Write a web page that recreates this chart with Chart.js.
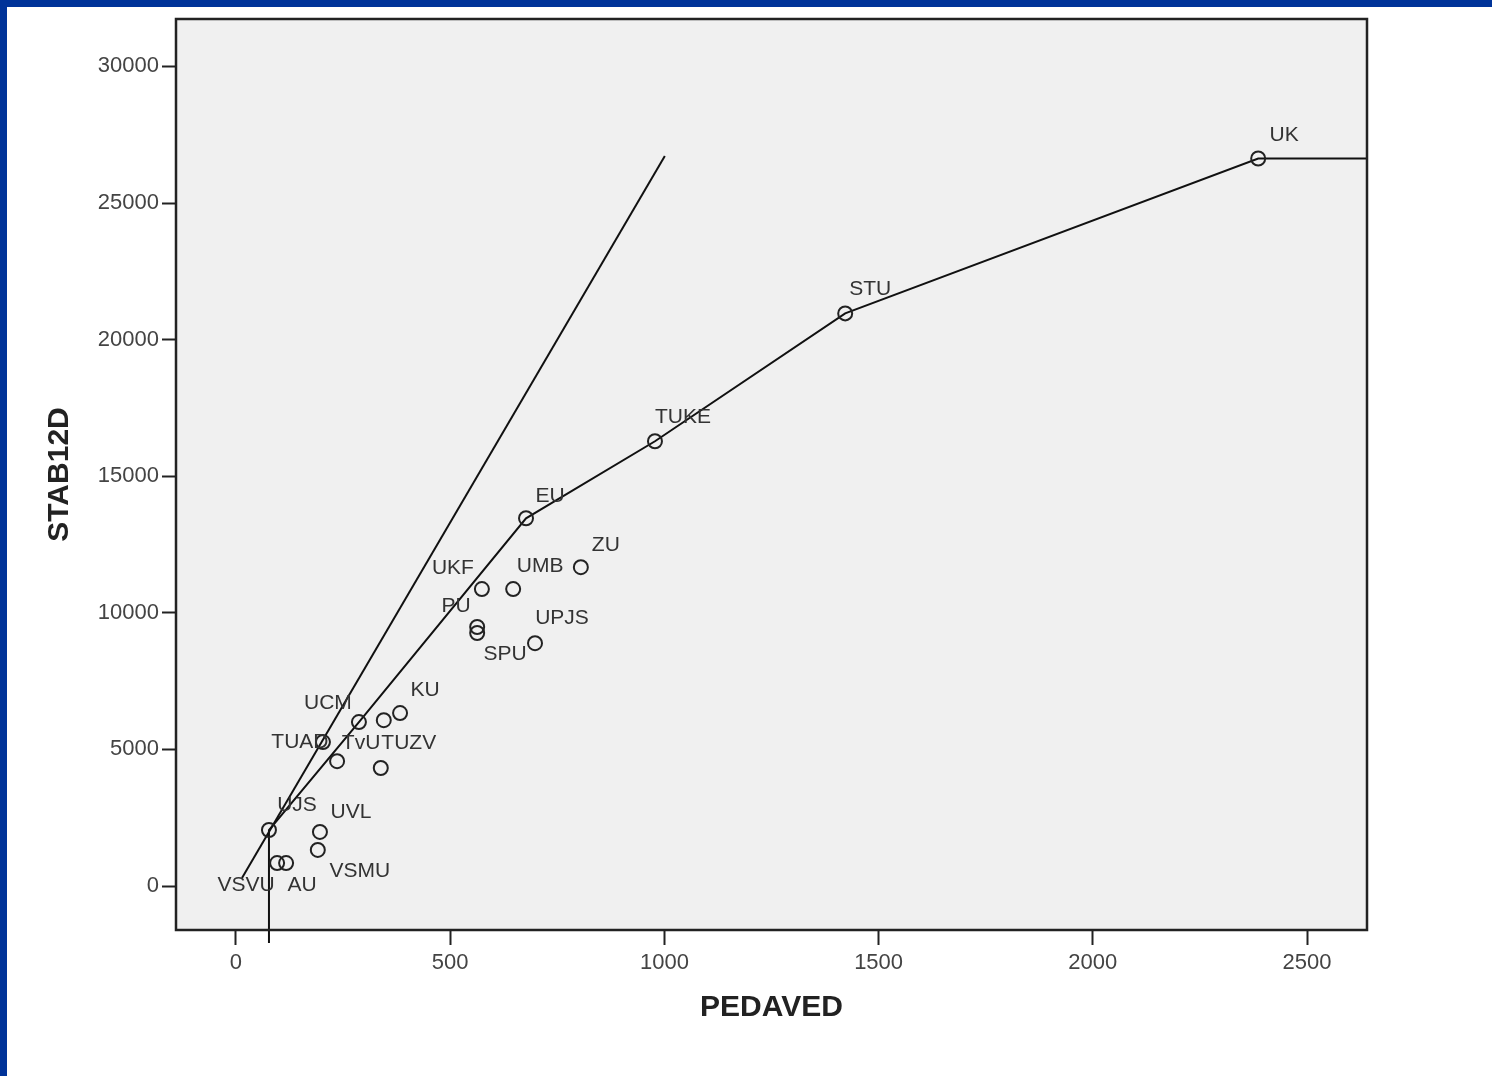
<!DOCTYPE html>
<html>
<head>
<meta charset="utf-8">
<script src="https://cdn.jsdelivr.net/npm/chart.js@4/dist/chart.umd.min.js"></script>
<style>
  html, body { margin: 0; padding: 0; background: #ffffff; }
  #wrap { position: absolute; left: 0; top: 0; width: 1492px; height: 1076px; }
</style>
</head>
<body>
<div id="wrap"><canvas id="c" width="1492" height="1076"></canvas></div>
<script>
// Universities: average pedagogical staff (PEDAVED) vs. STAB12D output
const unitNames = ['UK', 'STU', 'TUKE', 'EU', 'ZU', 'UMB', 'UKF', 'PU', 'SPU', 'UPJS',
                   'UCM', '', 'KU', 'TUAD', 'TvU', 'TUZV', 'UJS', 'UVL', 'VSMU', 'VSVU', 'AU'];
const pedaved  = [2386, 1422, 978, 677, 805, 647, 574, 563, 563, 698,
                  287, 345, 383, 203, 236, 338, 77, 196, 191, 96, 117];
const stab12d  = [26630, 20960, 16280, 13460, 11670, 10870, 10870, 9480, 9260, 8890,
                  6000, 6070, 6330, 5270, 4570, 4320, 2050, 1980, 1320, 840, 840];

// Units lying on the variable-returns frontier, in order of input
const frontierUnits = ['UJS', 'UCM', 'EU', 'TUKE', 'STU', 'UK'];
// Constant-returns ray endpoints
const rayX = [14, 1001];
const rayY = [290, 26720];

// Axis ticks
const xTickValues = [0, 500, 1000, 1500, 2000, 2500];
const yTickValues = [0, 5000, 10000, 15000, 20000, 25000, 30000];

// Axis ranges
const X_MIN = -140, X_MAX = 2640;
const Y_MIN = -1610, Y_MAX = 31735;
const FRONTIER_FOOT = -2085;

const points = unitNames.map((n, i) => ({ x: pedaved[i], y: stab12d[i], name: n }));
const frontier = [];
frontierUnits.forEach((n, k) => {
  const i = unitNames.indexOf(n);
  if (k === 0) frontier.push({ x: pedaved[i], y: FRONTIER_FOOT });
  frontier.push({ x: pedaved[i], y: stab12d[i] });
  if (k === frontierUnits.length - 1) frontier.push({ x: X_MAX, y: stab12d[i] });
});
const ray = rayX.map((x, i) => ({ x: x, y: rayY[i] }));

// Where each case label sits relative to its marker (px)
const labelOffsets = {
  UK: [26, -23], STU: [25, -24], TUKE: [28, -24], EU: [24, -22], ZU: [25, -22],
  UMB: [27, -23], UKF: [-29, -21], PU: [-21, -21], SPU: [28, 21], UPJS: [27, -25],
  UCM: [-31, -19], KU: [25, -23], TUAD: [-23, 0], TvU: [24, -18], TUZV: [28, -25],
  UJS: [28, -25], UVL: [31, -20], VSMU: [42, 21], VSVU: [-31, 22], AU: [16, 22]
};

const FONT = '"Liberation Sans", Arial, sans-serif';
const plainNumber = v => String(v);

const framePlugin = {
  id: 'frame',
  beforeDraw(chart) {
    const { ctx, chartArea: a, width, height } = chart;
    ctx.save();
    ctx.fillStyle = '#ffffff';
    ctx.fillRect(0, 0, width, height);
    ctx.fillStyle = '#003399';
    ctx.fillRect(0, 0, width, 7);
    ctx.fillRect(0, 0, 7, height);
    ctx.fillStyle = '#f0f0f0';
    ctx.fillRect(a.left, a.top, a.right - a.left, a.bottom - a.top);
    ctx.restore();
  },
  afterDraw(chart) {
    const { ctx, chartArea: a } = chart;
    ctx.save();
    ctx.strokeStyle = '#222222';
    ctx.lineWidth = 2.5;
    ctx.strokeRect(a.left, a.top, a.right - a.left, a.bottom - a.top);
    ctx.restore();
  }
};

const caseLabels = {
  id: 'caseLabels',
  afterDatasetsDraw(chart) {
    const { ctx } = chart;
    const meta = chart.getDatasetMeta(0);
    ctx.save();
    ctx.font = '21px ' + FONT;
    ctx.fillStyle = '#333333';
    ctx.textAlign = 'center';
    ctx.textBaseline = 'middle';
    meta.data.forEach((el, i) => {
      const name = unitNames[i];
      if (!name) return;
      const off = labelOffsets[name] || [25, -23];
      ctx.fillText(name, el.x + off[0], el.y + off[1]);
    });
    ctx.restore();
  }
};

new Chart(document.getElementById('c'), {
  type: 'scatter',
  data: {
    datasets: [
      {
        data: points,
        pointRadius: 7,
        pointHoverRadius: 7,
        pointBorderWidth: 2,
        pointBorderColor: '#222222',
        pointBackgroundColor: 'rgba(0,0,0,0)',
        showLine: false
      },
      {
        data: frontier,
        showLine: true,
        borderColor: '#111111',
        borderWidth: 2,
        pointRadius: 0,
        tension: 0,
        clip: false
      },
      {
        data: ray,
        showLine: true,
        borderColor: '#111111',
        borderWidth: 2,
        pointRadius: 0,
        tension: 0
      }
    ]
  },
  options: {
    responsive: false,
    animation: false,
    events: [],
    devicePixelRatio: 1,
    layout: { padding: { top: 19, right: 125, left: 0, bottom: 0 } },
    plugins: { legend: { display: false }, tooltip: { enabled: false } },
    scales: {
      x: {
        type: 'linear',
        min: X_MIN,
        max: X_MAX,
        afterBuildTicks(scale) { scale.ticks = xTickValues.map(v => ({ value: v })); },
        afterFit(scale) { scale.height = 146; },
        grid: { drawOnChartArea: false, drawTicks: true, tickLength: 15, tickColor: '#222222', tickWidth: 2 },
        border: { display: false },
        ticks: { font: { family: FONT, size: 22 }, color: '#444444', padding: 5, maxRotation: 0, callback: plainNumber },
        title: {
          display: true, text: 'PEDAVED', color: '#222222',
          font: { family: FONT, size: 30, weight: 'bold' },
          padding: { top: 0, bottom: 50 }
        }
      },
      y: {
        type: 'linear',
        min: Y_MIN,
        max: Y_MAX,
        afterBuildTicks(scale) { scale.ticks = yTickValues.map(v => ({ value: v })); },
        afterFit(scale) { scale.width = 176; },
        grid: { drawOnChartArea: false, drawTicks: true, tickLength: 14, tickColor: '#222222', tickWidth: 2 },
        border: { display: false },
        ticks: { font: { family: FONT, size: 22 }, color: '#444444', padding: 3, callback: plainNumber },
        title: {
          display: true, text: 'STAB12D', color: '#222222',
          font: { family: FONT, size: 30, weight: 'bold' },
          padding: { top: 42, bottom: 0 }
        }
      }
    }
  },
  plugins: [framePlugin, caseLabels]
});
</script>
</body>
</html>
